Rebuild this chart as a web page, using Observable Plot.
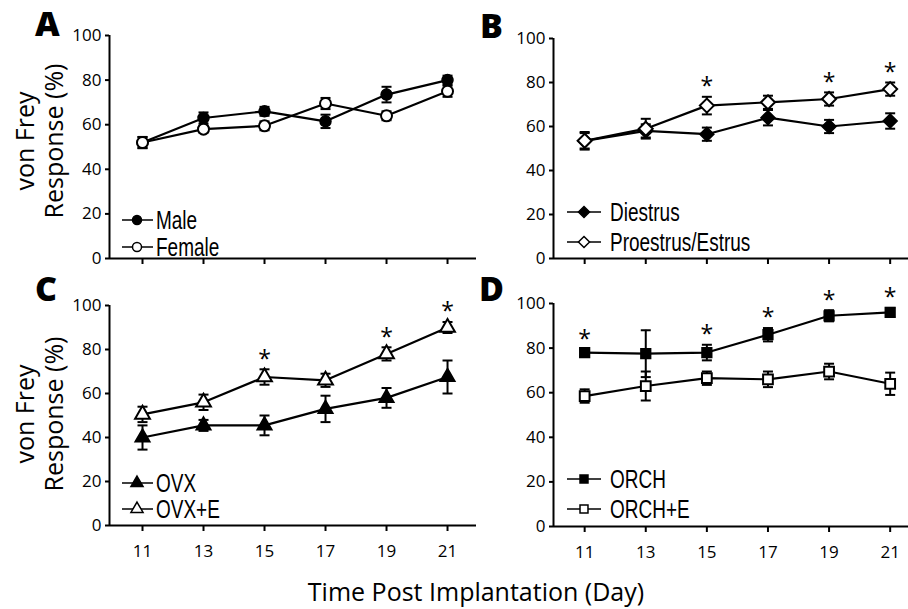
<!DOCTYPE html>
<html><head><meta charset="utf-8">
<script src="https://cdn.jsdelivr.net/npm/d3@7"></script>
<script src="https://cdn.jsdelivr.net/npm/@observablehq/plot@0.6"></script>
<style>
body{margin:0;background:#fff;}
#root{position:relative;width:908px;height:609px;overflow:hidden;background:#fff;}
.panel{position:absolute;}
#overlay{position:absolute;left:0;top:0;pointer-events:none;}
</style></head>
<body><div id="root"></div>
<script>
// ---- data ----
const days = [11, 13, 15, 17, 19, 21];
const yTicks = [0, 20, 40, 60, 80, 100];

const maleMean = [52, 63, 66, 61.5, 73.5, 80];
const maleErr = [2.5, 2.5, 2, 3, 3.5, 2];
const femaleMean = [52, 58, 59.5, 69.5, 64, 75];
const femaleErr = [2.5, 1.5, 2, 2.5, 2, 2.5];

const diestrusMean = [53.5, 58, 56.5, 64, 60, 62.5];
const diestrusErr = [4, 3, 3, 3.5, 3, 3.5];
const proestrusMean = [53.5, 59, 69.5, 71, 72.5, 77];
const proestrusErr = [3.5, 4.5, 4, 3, 3, 3];

const ovxMean = [40, 45.5, 45.5, 53, 58, 67.5];
const ovxErr = [5.5, 2.5, 4.5, 6, 4.5, 7.5];
const ovxEMean = [50.5, 56, 67.5, 66, 78, 90];
const ovxEErr = [3.5, 3.5, 3.5, 3, 3, 2.5];

const orchMean = [78, 77.5, 78, 86, 94.5, 96];
const orchErr = [1.5, 10.5, 3.5, 3, 2.5, 2];
const orchEMean = [58.5, 63, 66.5, 66, 69.5, 64];
const orchEErr = [3, 6.5, 3, 3.5, 3.5, 5];

const starsB = [15, 19, 21];
const starsC = [15, 19, 21];
const starsD = [11, 15, 17, 19, 21];

const legendA = ["Male", "Female"];
const legendB = ["Diestrus", "Proestrus/Estrus"];
const legendC = ["OVX", "OVX+E"];
const legendD = ["ORCH", "ORCH+E"];

const panelLetters = ["A", "B", "C", "D"];
const yTitle = ["von Frey", "Response (%)"];
const xTitle = "Time Post Implantation (Day)";

// ---- helpers ----
function rows(mean, err) { return days.map((d, i) => ({day: d, mean: mean[i], err: err[i]})); }

const capSymbol = {draw(ctx) { ctx.moveTo(-5, 0); ctx.lineTo(5, 0); }};

const SYM = {circle: d3.symbolCircle, diamond2: d3.symbolDiamond2, triangle: d3.symbolTriangle, square: d3.symbolSquare};

function makePanel(cfg) {
  const marks = [
    Plot.ruleY([0], {strokeWidth: 2}),
    Plot.ruleX([cfg.xDomain[0]], {strokeWidth: 2}),
    Plot.axisX({ticks: days, tickSize: 6, tickPadding: 13, strokeWidth: 2, label: null,
      tickFormat: cfg.xLabels ? (d => d) : (() => ""), fontSize: 17}),
    Plot.axisY({ticks: yTicks, tickSize: 4, tickPadding: 4, strokeWidth: 2, label: null, fontSize: 17})
  ];
  for (const s of cfg.series) {
    const data = rows(s.mean, s.err);
    marks.push(Plot.line(data, {x: "day", y: "mean", stroke: "black", strokeWidth: 2.2}));
    marks.push(Plot.ruleX(data, {x: "day", y1: d => d.mean - d.err, y2: d => d.mean + d.err, stroke: "black", strokeWidth: 2}));
    marks.push(Plot.dot(data, {x: "day", y: d => d.mean + d.err, symbol: capSymbol, fill: "none", stroke: "black", strokeWidth: 2}));
    marks.push(Plot.dot(data, {x: "day", y: d => d.mean - d.err, symbol: capSymbol, fill: "none", stroke: "black", strokeWidth: 2}));
  }
  for (const s of cfg.series) {
    const data = rows(s.mean, s.err);
    marks.push(Plot.dot(data, {x: "day", y: "mean", symbol: s.symbol, r: s.r,
      fill: s.filled ? "black" : "white", stroke: "black", strokeWidth: s.filled ? 1.5 : 2}));
  }
  if (cfg.stars) {
    const s = cfg.series[cfg.starSeries];
    const data = rows(s.mean, s.err).filter(d => cfg.stars.includes(d.day));
    marks.push(Plot.text(data, {x: "day", y: d => d.mean + d.err, text: () => "*", dy: -10,
      fontSize: 23, fill: "black", fontFamily: "'Open Sans', sans-serif"}));
  }
  const p = Plot.plot({
    width: cfg.width, height: cfg.height,
    marginLeft: cfg.marginLeft, marginRight: cfg.marginRight,
    marginTop: cfg.marginTop, marginBottom: cfg.marginBottom,
    style: {background: "transparent", overflow: "visible", color: "black", fontFamily: "'Open Sans', sans-serif", fontSize: "17px"},
    x: {domain: cfg.xDomain},
    y: {domain: [0, 100]},
    marks
  });
  const div = document.createElement("div");
  div.className = "panel";
  div.style.left = cfg.left + "px";
  div.style.top = cfg.top + "px";
  div.appendChild(p);
  document.getElementById("root").appendChild(div);
}

const xDomLeft = [9.918, 21.95];
const xDomRight = [9.98, 21.6];

makePanel({left: 0, top: 0, width: 480, height: 270, marginLeft: 109, marginRight: 4, marginTop: 35, marginBottom: 12,
  xDomain: xDomLeft, xLabels: false,
  series: [
    {mean: maleMean, err: maleErr, symbol: "circle", r: 5.5, filled: true},
    {mean: femaleMean, err: femaleErr, symbol: "circle", r: 5.5, filled: false}
  ]});
makePanel({left: 0, top: 270, width: 480, height: 300, marginLeft: 109, marginRight: 4, marginTop: 35, marginBottom: 45,
  xDomain: xDomLeft, xLabels: true, stars: starsC, starSeries: 1,
  series: [
    {mean: ovxMean, err: ovxErr, symbol: "triangle", r: 5.5, filled: true},
    {mean: ovxEMean, err: ovxEErr, symbol: "triangle", r: 5.5, filled: false}
  ]});
makePanel({left: 454, top: 0, width: 454, height: 270, marginLeft: 99, marginRight: 0, marginTop: 38, marginBottom: 12,
  xDomain: xDomRight, xLabels: false, stars: starsB, starSeries: 1,
  series: [
    {mean: diestrusMean, err: diestrusErr, symbol: "diamond2", r: 6.3, filled: true},
    {mean: proestrusMean, err: proestrusErr, symbol: "diamond2", r: 6.3, filled: false}
  ]});
makePanel({left: 454, top: 270, width: 454, height: 300, marginLeft: 99, marginRight: 0, marginTop: 33, marginBottom: 44,
  xDomain: xDomRight, xLabels: true, stars: starsD, starSeries: 0,
  series: [
    {mean: orchMean, err: orchErr, symbol: "square", r: 5.5, filled: true},
    {mean: orchEMean, err: orchEErr, symbol: "square", r: 5.5, filled: false}
  ]});

// ---- overlay: letters, titles, legends ----
const ov = d3.select("#root").append("svg").attr("id", "overlay").attr("width", 908).attr("height", 609);

const letterPos = [[35, 36], [480, 38], [35, 301], [479, 301]];
panelLetters.forEach((t, i) => {
  ov.append("text").attr("x", letterPos[i][0]).attr("y", letterPos[i][1])
    .attr("font-family", "'Open Sans', sans-serif").attr("font-weight", 800).attr("font-size", 34).text(t);
});

for (const cy of [141, 414]) {
  const g = ov.append("g").attr("transform", `translate(0,${cy}) rotate(-90)`);
  g.append("text").attr("x", 0).attr("y", 34).attr("text-anchor", "middle")
    .attr("font-family", "'Open Sans', sans-serif").attr("font-size", 25).text(yTitle[0]);
  g.append("text").attr("x", 0).attr("y", 63).attr("text-anchor", "middle")
    .attr("font-family", "'Open Sans', sans-serif").attr("font-size", 25).text(yTitle[1]);
}

ov.append("text").attr("x", 476).attr("y", 601).attr("text-anchor", "middle")
  .attr("font-family", "'Open Sans', sans-serif").attr("font-size", 25).text(xTitle);

function legend(labels, symbol, x0, x1, xm, xt, ys, r) {
  labels.forEach((lab, i) => {
    const y = ys[i];
    ov.append("line").attr("x1", x0).attr("x2", x1).attr("y1", y).attr("y2", y).attr("stroke", "black").attr("stroke-width", 1.5);
    ov.append("path").attr("d", d3.symbol().type(SYM[symbol]).size(Math.PI * r * r)())
      .attr("transform", `translate(${xm},${y})`)
      .attr("fill", i === 0 ? "black" : "white").attr("stroke", "black").attr("stroke-width", 1.5);
    ov.append("text").attr("transform", `translate(${xt},${y + 9}) scale(0.76,1)`)
      .attr("font-family", "'Liberation Sans', Arial, sans-serif").attr("font-size", 25).text(lab);
  });
}
legend(legendA, "circle", 122, 153, 137, 156, [220, 247], 4.5);
legend(legendB, "diamond2", 567, 601, 584, 610, [212, 242], 5);
legend(legendC, "triangle", 122, 153, 137, 156, [483, 509], 4.5);
legend(legendD, "square", 567, 601, 584, 610, [479, 509], 4.5);
</script>
</body></html>
